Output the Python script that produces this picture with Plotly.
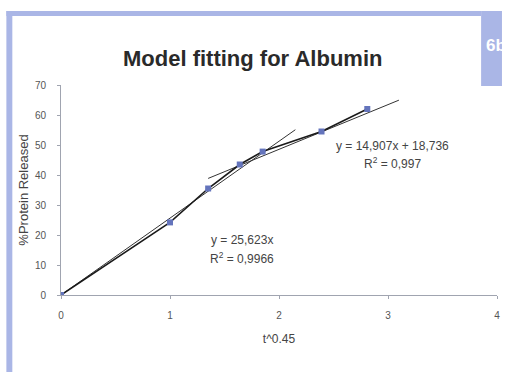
import plotly.graph_objects as go

# Data
t_045 = [0, 1.0, 1.35, 1.64, 1.85, 2.39, 2.81]
protein_released = [0, 24.2, 35.5, 43.5, 47.8, 54.5, 62.0]

# Trend line 1: y = 25.623x (through origin)
fit1_slope = 25.623
fit1_x = [0, 2.15]
# Trend line 2: y = 14.907x + 18.736
fit2_slope = 14.907
fit2_intercept = 18.736
fit2_x = [1.35, 3.1]

x_ticks = [0, 1, 2, 3, 4]
y_ticks = [0, 10, 20, 30, 40, 50, 60, 70]

W, H = 505, 372
L, R, T, B = 61, 5, 85, 77
pw = W - L - R
ph = H - T - B


def px(x):
    return (x - L) / pw


def py(y):
    return (H - B - y) / ph


FRAME = "#aab6e6"
FONT = "Liberation Sans, Arial, sans-serif"

fig = go.Figure()

fig.add_trace(go.Scatter(
    x=fit1_x, y=[fit1_slope * v for v in fit1_x], mode="lines",
    line=dict(color="#333333", width=1), hoverinfo="skip", showlegend=False))
fig.add_trace(go.Scatter(
    x=fit2_x, y=[fit2_slope * v + fit2_intercept for v in fit2_x], mode="lines",
    line=dict(color="#333333", width=1), hoverinfo="skip", showlegend=False))
fig.add_trace(go.Scatter(
    x=t_045, y=protein_released, mode="lines+markers",
    line=dict(color="#1a1a1a", width=1.6),
    marker=dict(symbol="square", size=6, color="#6474bc"),
    showlegend=False))

ann_font = dict(family=FONT, size=12, color="#444444")
fig.add_annotation(x=3.04, y=49.8, xref="x", yref="y", text="y = 14,907x + 18,736",
                   showarrow=False, font=ann_font)
fig.add_annotation(x=3.04, y=43.9, xref="x", yref="y", text="R<sup>2</sup> = 0,997",
                   showarrow=False, font=ann_font)
fig.add_annotation(x=1.66, y=18.3, xref="x", yref="y", text="y = 25,623x",
                   showarrow=False, font=ann_font)
fig.add_annotation(x=1.66, y=12.3, xref="x", yref="y", text="R<sup>2</sup> = 0,9966",
                   showarrow=False, font=ann_font)

# Title
fig.add_annotation(x=px(254), y=py(58), xref="paper", yref="paper",
                   text="<b>Model fitting for Albumin</b>", showarrow=False,
                   xanchor="center", yanchor="middle",
                   font=dict(family=FONT, size=22, color="#2a2a2a"))

# Slide frame
fig.add_shape(type="rect", xref="paper", yref="paper", x0=px(6), x1=px(12),
              y0=py(372), y1=py(11), fillcolor=FRAME, line_width=0, layer="below")
fig.add_shape(type="rect", xref="paper", yref="paper", x0=px(6), x1=px(484),
              y0=py(16), y1=py(11), fillcolor=FRAME, line_width=0, layer="below")
fig.add_shape(type="rect", xref="paper", yref="paper", x0=px(484), x1=px(505),
              y0=py(86), y1=py(11), fillcolor=FRAME, line_width=0, layer="below")
fig.add_annotation(x=px(487), y=py(45), xref="paper", yref="paper", text="<b>6b</b>",
                   showarrow=False, xanchor="left", yanchor="middle",
                   font=dict(family=FONT, size=17, color="white"))

axis_common = dict(showgrid=False, zeroline=False, showline=True,
                   linecolor="#a0a4b0", linewidth=1, ticks="outside",
                   ticklen=3, tickcolor="#a0a4b0",
                   tickfont=dict(family=FONT, size=10, color="#555555"))

fig.update_xaxes(range=[0, 4], tickvals=x_ticks, ticklabelstandoff=8, **axis_common,
                 title=dict(text="t^0.45", font=dict(family=FONT, size=12, color="#444444"),
                            standoff=14))
fig.update_yaxes(range=[0, 70], tickvals=y_ticks, ticklabelstandoff=9, **axis_common,
                 title=dict(text="%Protein Released",
                            font=dict(family=FONT, size=13, color="#444444"),
                            standoff=3))

fig.update_layout(
    width=W, height=H,
    margin=dict(l=L, r=R, t=T, b=B),
    paper_bgcolor="white", plot_bgcolor="white",
    showlegend=False,
)

fig.write_html("out.html", config={"displayModeBar": False},
               post_script="document.body.style.margin='0';document.body.style.overflow='hidden';")
